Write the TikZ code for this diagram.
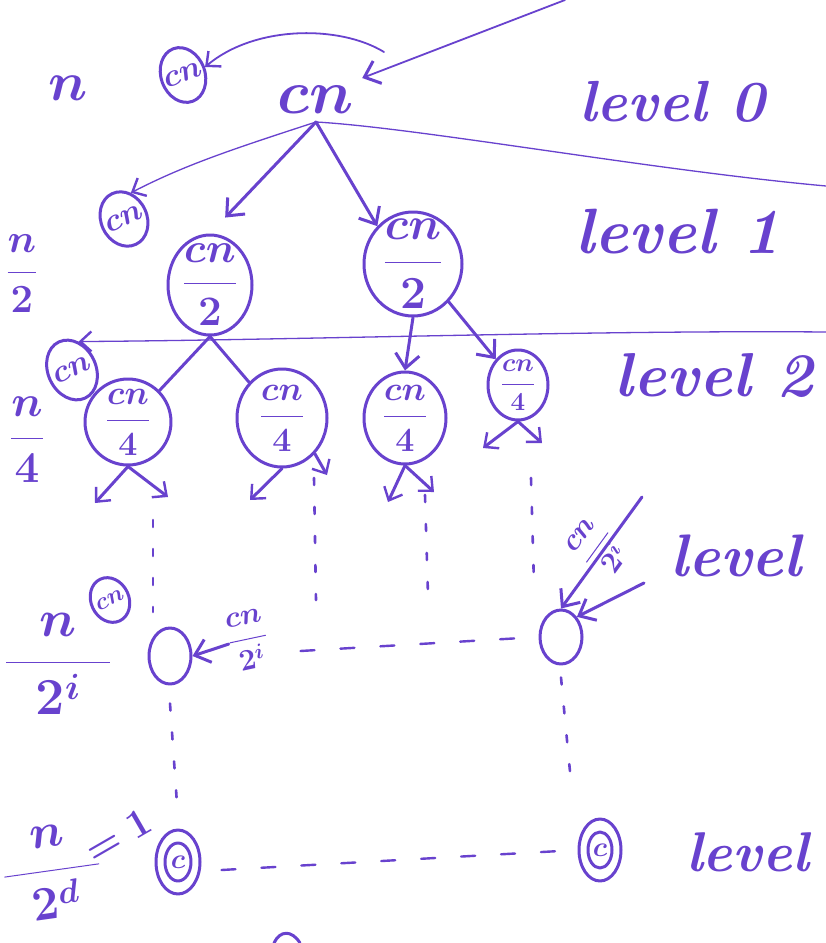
\RequirePackage{fix-cm}
\documentclass[tikz,border=0pt]{standalone}
\usepackage{amsmath}
\usepackage{fontspec}
\usetikzlibrary{arrows.meta,shapes.geometric}
\definecolor{ink}{RGB}{104,66,206}
\newcommand\fs[1]{\fontsize{#1}{#1}\selectfont}
\tikzset{
  ink/.style={draw=ink, line width=3pt, line cap=round, line join=round},
  hair/.style={draw=ink, line width=1.3pt, line cap=round},
  bub/.style={ellipse, ink, inner sep=0pt},
  lab/.style={text=ink, inner sep=0pt},
  tip/.style={-{Straight Barb[length=14pt,width=24pt,line width=3pt]}},
  smalltip/.style={-{Straight Barb[length=11pt,width=20pt,line width=2.4pt]}},
  arr/.style={ink, tip},
  dots/.style={ink, line width=2.6pt, dash pattern=on 7pt off 22pt},
  dashes/.style={ink, line width=2.4pt, dash pattern=on 14pt off 26pt},
  hand/.style={lab, font=\itshape},
}
\begin{document}
\begin{tikzpicture}[x=1pt,y=-1pt]
\useasboundingbox[fill=white] (0,0) rectangle (826,943);

% ---------- level 0 ----------
\node[lab, font=\fs{55}\boldmath] (n0) at (68,88) {$n$};
\node[bub, minimum width=44, minimum height=56, rotate=20,
      label={[lab, font=\fs{32}\boldmath, rotate=20]center:$cn$}] (s0) at (183,75) {};
\node[lab, font=\fs{62}\boldmath, inner sep=8pt] (root) at (316,100) {$cn$};
\node[hand, font=\fs{58}\bfseries\itshape] (lv0) at (672,102) {level 0};
\coordinate (t0) at (565,0);
\coordinate (j0) at (384,52);
\draw[ink, line width=1.8pt, tip] (t0) -- (root.north east);
\draw[ink, line width=1.8pt, smalltip] (j0) .. controls (340,25) and (255,25) .. (s0.east);

% ---------- level 1 ----------
\coordinate (r1) at (826,186);
\node[bub, minimum width=46, minimum height=56, rotate=25,
      label={[lab, font=\fs{32}\boldmath, rotate=25]center:$cn$}] (s1) at (124,219) {};
\draw[hair, smalltip] (r1) .. controls (650,170) and (420,128) .. (root.south)
      .. controls (230,150) and (185,165) .. (s1.north east);
\node[hand, font=\fs{64}\bfseries\itshape] (lv1) at (678,232) {level 1};
\node[lab, font=\fs{40}\boldmath] (n1) at (22,274) {$\dfrac{n}{2}$};
\node[bub, minimum width=84, minimum height=100,
      label={[lab, font=\fs{42}\boldmath]center:$\dfrac{cn}{2}$}] (L1a) at (210,285) {};
\node[bub, minimum width=98, minimum height=104,
      label={[lab, font=\fs{46}\boldmath]center:$\dfrac{cn}{2}$}] (L1b) at (413,264) {};
\draw[arr, shorten >=22pt] (root.south) -- (L1a.north);
\draw[arr] (root.south) -- (L1b.north west);

% ---------- level 2 ----------
\coordinate (r2) at (826,332);
\node[bub, minimum width=48, minimum height=62, rotate=25,
      label={[lab, font=\fs{32}\boldmath, rotate=25]center:$cn$}] (s2) at (72,370) {};
\draw[hair, smalltip] (r2) .. controls (600,330) and (300,340) .. (s2.north east);
\node[hand, font=\fs{62}\bfseries\itshape] (lv2) at (714,375) {level 2};
\node[lab, font=\fs{44}\boldmath] (n2) at (27,440) {$\dfrac{n}{4}$};
\node[bub, minimum width=86, minimum height=86,
      label={[lab, font=\fs{34}\boldmath]center:$\dfrac{cn}{4}$}] (A) at (128,422) {};
\node[bub, minimum width=90, minimum height=98,
      label={[lab, font=\fs{34}\boldmath]center:$\dfrac{cn}{4}$}] (B) at (282,418) {};
\node[bub, minimum width=82, minimum height=92,
      label={[lab, font=\fs{34}\boldmath]center:$\dfrac{cn}{4}$}] (C) at (405,418) {};
\node[bub, minimum width=60, minimum height=70,
      label={[lab, font=\fs{26}\boldmath]center:$\dfrac{cn}{4}$}] (D) at (518,385) {};
\draw[ink] (L1a.south) -- (A.north east);
\draw[ink] (L1a.south) -- (B.north west);
\draw[arr] (L1b.south) -- (C.north);
\draw[arr] (L1b.south east) -- (D.north west);

% stubs leaving the level 2 nodes
\coordinate (a1) at (95,503);  \coordinate (a2) at (168,497);
\coordinate (b1) at (250,500); \coordinate (b2) at (327,475);
\coordinate (c1) at (388,502); \coordinate (c2) at (434,492);
\coordinate (d1) at (483,448); \coordinate (d2) at (542,443);
\draw[ink, smalltip] (A.south) -- (a1);
\draw[ink, smalltip] (A.south) -- (a2);
\draw[ink, smalltip] (B.south) -- (b1);
\draw[ink, smalltip] (B.south east) -- (b2);
\draw[ink, smalltip] (C.south) -- (c1);
\draw[ink, smalltip] (C.south) -- (c2);
\draw[ink, smalltip] (D.south) -- (d1);
\draw[ink, smalltip] (D.south) -- (d2);

% ---------- level i ----------
\node[bub, minimum width=38, minimum height=46, rotate=25,
      label={[lab, font=\fs{24}\boldmath, rotate=25]center:$cn$}] (si) at (110,600) {};
\node[lab, font=\fs{52}\boldmath] (ni) at (58,664) {$\dfrac{\;\;n\;\;}{2^{i}}$};
\node[bub, minimum width=42, minimum height=56] (Li) at (170,656) {};
\node[bub, minimum width=42, minimum height=54] (Ri) at (561,637) {};
\node[lab, font=\fs{30}\boldmath, rotate=12] (ci) at (248,640) {$\dfrac{cn}{2^{i}}$};
\draw[arr] (ci.west) -- (Li.east);
\draw[dashes] (Li.east) ++(108,-5) -- (Ri.west);
\coordinate (tR) at (642,497);
\draw[arr] (tR) -- (Ri.north);
\node[lab, font=\fs{30}\boldmath, rotate=54] (cR) at (598,548) {$\dfrac{cn}{2^{i}}$};
\coordinate (qR) at (644,583);
\draw[arr] (qR) -- (Ri.north east);
\node[hand, font=\fs{60}\bfseries\itshape] (lvi) at (736,556) {level};

% dotted descents
\draw[dots] (153,520) -- (153,612);
\draw[dots] (314,478) -- (316,600);
\draw[dots] (425,495) -- (428,595);
\draw[dots] (531,478) -- (534,585);
\draw[dots] (Li.south) ++(0,18) -- (178,818);
\draw[dots] (Ri.south) ++(0,12) -- (571,782);

% ---------- level d ----------
\node[lab, font=\fs{48}\boldmath, rotate=8] (nd) at (52,872) {$\dfrac{\;\;n\;\;}{2^{d}}$};
\node[lab, font=\fs{40}\boldmath, rotate=30] (eq) at (118,836) {$=1$};
\node[bub, minimum width=44, minimum height=64,
      label={[lab, font=\fs{28}\boldmath]center:$c$}] (Ld) at (178,862) {};
\node[bub, minimum width=26, minimum height=38] at (Ld) {};
\node[bub, minimum width=42, minimum height=62,
      label={[lab, font=\fs{28}\boldmath]center:$c$}] (Rd) at (600,850) {};
\node[bub, minimum width=24, minimum height=36] at (Rd) {};
\draw[dashes] (Ld.east) ++(20,8) -- (Rd.west);
\node[hand, font=\fs{56}\bfseries\itshape, anchor=west] (lvd) at (686,852) {level};
\draw[ink] (300,943) .. controls (292,930) and (280,930) .. (274,943);
\end{tikzpicture}
\end{document}
